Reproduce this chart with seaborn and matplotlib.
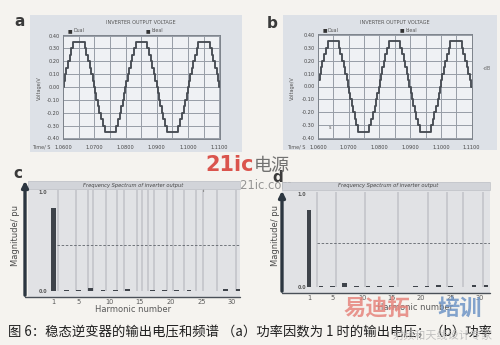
import numpy as np
import pandas as pd
import matplotlib
matplotlib.use("Agg")
import matplotlib.pyplot as plt
import seaborn as sns
from matplotlib.patches import Rectangle

# ---------------- data ----------------
# one period (ms from rising zero crossing) of the staircase output and its level (V)
wave_step_ms = [0.0, 0.2, 0.6, 1.0, 1.5, 2.0, 2.6, 3.2, 6.8, 7.4, 8.0, 8.5, 9.0, 9.4,
                9.8, 10.2, 10.6, 11.0, 11.5, 12.0, 12.6, 13.2, 16.8, 17.4, 18.0, 18.5,
                19.0, 19.4, 19.8]
wave_level_v = [0.00, 0.05, 0.10, 0.15, 0.20, 0.25, 0.30, 0.35, 0.30, 0.25, 0.20, 0.15,
                0.10, 0.05, 0.00, -0.05, -0.10, -0.15, -0.20, -0.25, -0.30, -0.35,
                -0.30, -0.25, -0.20, -0.15, -0.10, -0.05, 0.00]
a_cycle_starts = [1.0401, 1.0601, 1.0801, 1.1001]
b_cycle_starts = [1.0399, 1.0599, 1.0799, 1.0999]
a_time_range = [1.0600, 1.1102]
b_time_range = [1.0600, 1.1101]
time_ticks = [1.06, 1.07, 1.08, 1.09, 1.10, 1.11]
time_tick_labels = ["1.0600", "1.0700", "1.0800", "1.0900", "1.1000", "1.1100"]
volt_ticks = [0.40, 0.30, 0.20, 0.10, 0.00, -0.10, -0.20, -0.30, -0.40]
volt_tick_labels = ["0.40", "0.30", "0.20", "0.10", "0.00", "-0.10", "-0.20", "-0.30", "-0.40"]

harmonics = list(range(1, 32))
c_magnitude = [0.85, 0, 0.010, 0, 0.010, 0, 0.030, 0, 0.010, 0, 0.010, 0, 0.020, 0,
               0.005, 0, 0.010, 0, 0.010, 0, 0.010, 0, 0.010, 0, 0.005, 0, 0.005, 0,
               0.020, 0, 0.025]
d_magnitude = [0.84, 0, 0.010, 0, 0.015, 0, 0.045, 0, 0.010, 0, 0.015, 0, 0.010, 0,
               0.010, 0, 0.005, 0, 0.015, 0, 0.010, 0, 0.020, 0, 0.010, 0, 0.005, 0,
               0.025, 0, 0.025]
c_marker_lines = [1.7, 4.6, 6.5, 7.4, 9.5, 11.3, 12.4, 14.5, 15.4, 16.3, 17.3, 19.4,
                  20.4, 22.2, 24.2, 25.3, 27.5, 30.6]
d_marker_lines = [2.3, 5.6, 10.5, 16.1, 21.2, 24.4, 27.1, 30.5]
harm_ticks = [1, 5, 10, 15, 20, 25, 30]
harm_tick_labels = ["1", "5", "10", "15", "20", "25", "30"]
mag_ticks = [1.0, 0.0]
mag_tick_labels = ["1.0", "0.0"]
mag_dash_level = [0.47, 0.48]

caption = "图 6：稳态逆变器的输出电压和频谱 （a）功率因数为 1 时的输出电压；（b）功率"

# ---------------- style ----------------
sns.set_theme(style="white")
plt.rcParams["font.family"] = ["DejaVu Sans"]
CJK = ["Noto Sans CJK SC", "DejaVu Sans"]

W, H = 500, 345
BG = "#f5f3ef"
fig = plt.figure(figsize=(W / 100, H / 100), dpi=100, facecolor=BG)


def rect(x0, y0, x1, y1):
    return [x0 / W, 1 - y1 / H, (x1 - x0) / W, (y1 - y0) / H]


def fx(x):
    return x / W


def fy(y):
    return 1 - y / H


def staircase(starts, t0, t1):
    ts, vs = [], []
    for s in starts:
        for ms, v in zip(wave_step_ms, wave_level_v):
            ts.append(s + ms / 1000.0)
            vs.append(v)
    ts = np.array(ts)
    vs = np.array(vs)
    order = np.argsort(ts)
    ts, vs = ts[order], vs[order]
    inside = (ts > t0) & (ts < t1)
    first = vs[ts <= t0][-1]
    last = vs[ts < t1][-1]
    t = np.concatenate([[t0], ts[inside], [t1]])
    v = np.concatenate([[first], vs[inside], [last]])
    return pd.DataFrame({"time": t, "voltage": v})


def voltage_panel(panel_box, plot_box, starts, trange, letter, letter_xy,
                  title_x, leg1_x, leg2_x, leg_y, ylabel_x, timelabel_x):
    x0, y0, x1, y1 = panel_box
    fig.patches.append(Rectangle((fx(x0), fy(y1)), (x1 - x0) / W, (y1 - y0) / H,
                                 transform=fig.transFigure, facecolor="#dde1e7",
                                 edgecolor="none", zorder=-5))
    ax = fig.add_axes(rect(*plot_box))
    ax.set_zorder(2)
    ax.set_facecolor("#eff1f4")
    df = staircase(starts, trange[0], trange[1])
    sns.lineplot(data=df, x="time", y="voltage", ax=ax, drawstyle="steps-post",
                 estimator=None, sort=False, color="#474c53", lw=1.35, legend=False)
    ax.set_xlim(trange)
    ax.set_ylim(-0.405, 0.405)
    ax.set_xticks(time_ticks)
    ax.set_xticklabels(time_tick_labels)
    ax.set_xticks(np.arange(1.060, 1.1101, 0.005), minor=True)
    ax.set_yticks(volt_ticks)
    ax.set_yticklabels(volt_tick_labels)
    ax.grid(True, which="both", axis="x", color="#979da6", lw=0.7)
    ax.grid(True, which="major", axis="y", color="#979da6", lw=0.7)
    ax.set_axisbelow(True)
    ax.tick_params(axis="both", which="both", labelsize=3.6, length=0, pad=2.5,
                   colors="#444444")
    ax.tick_params(axis="x", which="major", length=1.5, direction="out", pad=2.5)
    ax.set_xlabel("")
    ax.set_ylabel("")
    for s in ax.spines.values():
        s.set_color("#7d838b")
        s.set_linewidth(0.7)
    fig.text(fx(letter_xy[0]), fy(letter_xy[1]), letter, fontsize=11, fontweight="bold",
             color="#3a3a3a", ha="center", va="center")
    fig.text(fx(title_x), fy(22), "INVERTER OUTPUT VOLTAGE", fontsize=3.6,
             color="#555555", ha="center", va="center")
    for lx, lab in [(leg1_x, "Dual"), (leg2_x, "Ideal")]:
        fig.text(fx(lx), fy(leg_y), "■", fontsize=3.5, color="#333333",
                 ha="center", va="center")
        fig.text(fx(lx + 3), fy(leg_y), lab, fontsize=3.4, color="#555555",
                 ha="left", va="center")
    fig.text(fx(ylabel_x), fy(88), "Voltage/V", fontsize=3.6, color="#555555",
             rotation=90, ha="center", va="center")
    fig.text(fx(timelabel_x), fy(147), "Time/ S", fontsize=3.5, color="#555555",
             ha="center", va="center")
    return ax


ax_a = voltage_panel((30, 15, 242, 152), (63, 35, 220, 139), a_cycle_starts,
                     a_time_range, "a", (20, 21), 141, 70, 148, 31, 39, 41)
ax_b = voltage_panel((283, 15, 497, 150), (318, 34, 472, 139), b_cycle_starts,
                     b_time_range, "b", (272, 24), 395, 325, 402, 30, 292, 296)
ax_b.text(1.0635, -0.33, "s", fontsize=3.5, color="#555555")
fig.text(fx(487), fy(68), "-dB", fontsize=3.5, color="#666666", ha="center", va="center")


def spectrum_panel(box, xlim, ylim, mags, lines, dash_y, dash_x0, tick_x,
                   title_x, arrow_x, arrow_top, letter, letter_xy, xlabel_xy, ylabel_xy):
    x0, y0, x1, y1 = box
    ax = fig.add_axes(rect(*box))
    ax.set_facecolor("#e1e2e5")
    for s in ax.spines.values():
        s.set_visible(False)
    ax.vlines(lines, 0.0, 1.03, color="#c3c5ca", lw=1.2, zorder=1)
    ax.hlines(dash_y, dash_x0, xlim[1], color="#5f646b", lw=0.6,
              linestyles=(0, (3, 2)), zorder=2)
    sns.barplot(x=harmonics, y=mags, native_scale=True, ax=ax, color="#3f444b",
                width=0.8, linewidth=0, saturation=1, zorder=3)
    ax.set_xlim(xlim)
    ax.set_ylim(ylim)
    ax.set_xticks(harm_ticks)
    ax.set_xticklabels(harm_tick_labels)
    ax.set_yticks([])
    ax.tick_params(axis="x", labelsize=4.8, length=0, pad=1.5, colors="#5a5a5a")
    ax.set_xlabel("")
    ax.set_ylabel("")
    for v, lab in zip(mag_ticks, mag_tick_labels):
        ax.text(tick_x, v, lab, fontsize=3.4, fontweight="bold", color="#555555",
                ha="center", va="center")
    # title band
    fig.patches.append(Rectangle((fx(x0), fy(y0 + 8)), (x1 - x0) / W, 8 / H,
                                 transform=fig.transFigure, facecolor="#d2d4d9",
                                 edgecolor="#b8bbc0", lw=0.4, zorder=5))
    fig.text(fx(title_x), fy(y0 + 4), "Frequency Spectrum of inverter output",
             fontsize=3.7, style="italic", color="#444444", ha="center", va="center",
             zorder=6)
    # bottom axis line
    fig.add_artist(plt.Line2D([fx(arrow_x), fx(x1)], [fy(y1), fy(y1)],
                              transform=fig.transFigure, color="#4a5058", lw=1.0))
    # y axis arrow
    fig.add_artist(matplotlib.patches.FancyArrowPatch(
        (fx(arrow_x), fy(y1 + 1)), (fx(arrow_x), fy(arrow_top)),
        transform=fig.transFigure, arrowstyle="-|>", mutation_scale=9,
        color="#2c3640", lw=2.4, zorder=7))
    fig.text(fx(letter_xy[0]), fy(letter_xy[1]), letter, fontsize=11,
             fontweight="bold", color="#3a3a3a", ha="center", va="center")
    fig.text(fx(xlabel_xy[0]), fy(xlabel_xy[1]), "Harmonic number", fontsize=6,
             color="#5a5a5a", ha="center", va="center")
    fig.text(fx(ylabel_xy[0]), fy(ylabel_xy[1]), "Magnitude/ pu", fontsize=6,
             color="#4a4a4a", rotation=90, ha="center", va="center")
    return ax


ax_c = spectrum_panel((28, 181, 240, 297), (-3.2, 31.3), (-0.061, 1.12), c_magnitude,
                      c_marker_lines, mag_dash_level[0], 1.5, -0.8, 133, 25, 178,
                      "c", (18, 174), (133, 310), (15, 236))
ax_d = spectrum_panel((282, 182, 490, 293), (-3.6, 31.7), (-0.065, 1.14), d_magnitude,
                      d_marker_lines, mag_dash_level[1], 2.4, -0.2, 388, 282, 188,
                      "d", (278, 177), (415, 308), (275, 235))

# ---------------- watermarks ----------------
fig.text(fx(205), fy(165), "21ic", fontsize=15, fontweight="bold", color="#d8433b",
         ha="left", va="center", alpha=0.9)
fig.text(fx(254), fy(166), "电源", fontsize=13, family=CJK, color="#5a5a5a",
         ha="left", va="center", alpha=0.85)
fig.text(fx(202), fy(186), "power.21ic.com", fontsize=8.3, color="#8a8a8a",
         ha="left", va="center", alpha=0.9)
fig.text(fx(344), fy(309), "易迪拓", fontsize=16, family=CJK, fontweight="bold",
         color="#e6857d", ha="left", va="center", alpha=0.85)
fig.text(fx(437), fy(309), "培训", fontsize=16, family=CJK, fontweight="bold",
         color="#6f95c6", ha="left", va="center", alpha=0.85)

# ---------------- caption ----------------
fig.text(fx(8), fy(332), caption, fontsize=9.6, family=CJK, color="#1e1e1e",
         ha="left", va="center")
fig.text(fx(393), fy(336), "射频和天线设计专家", fontsize=8.0, family=CJK,
         color="#b9b9b9", ha="left", va="center", alpha=0.85)

fig.savefig("out.png", dpi=100, facecolor=BG)
